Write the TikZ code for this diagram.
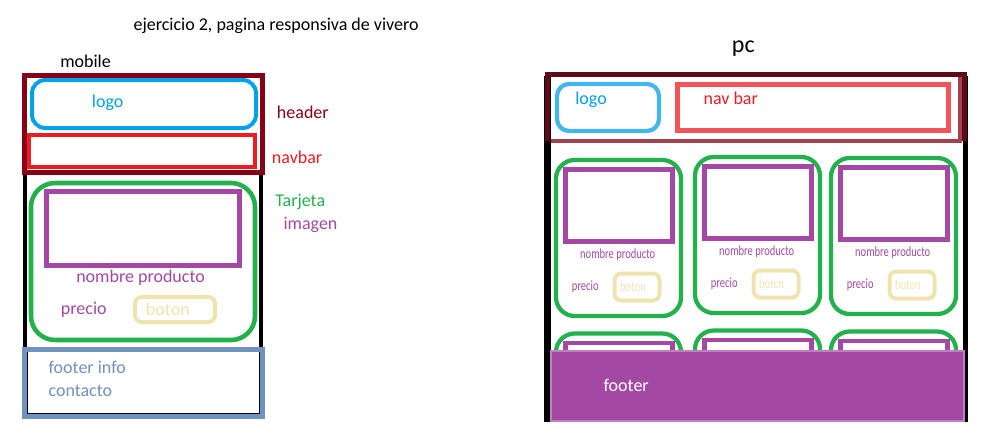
\documentclass[tikz,border=0pt]{standalone}
\usepackage{fontspec}
\setmainfont{Carlito}

\definecolor{hdrred}{HTML}{880015}
\definecolor{navred}{HTML}{ED1C24}
\definecolor{logoblue}{HTML}{00A2E8}
\definecolor{cardgreen}{HTML}{22B14C}
\definecolor{imgpurple}{HTML}{A349A4}
\definecolor{btnyellow}{HTML}{EFE4B0}
\definecolor{footblue}{HTML}{7092BE}
\definecolor{pclogo}{HTML}{45B6EC}
\definecolor{pcnav}{HTML}{F2545B}
\definecolor{pchdr}{HTML}{5E0A18}
\definecolor{pchdrlt}{HTML}{A3414F}

\tikzset{
  txt/.style={inner sep=0pt, anchor=mid west, yshift=-2.25pt, font=\fontsize{13.5pt}{16pt}\selectfont},
  small/.style={inner sep=0pt, anchor=mid west, yshift=-1pt, font=\fontsize{10.5pt}{12pt}\selectfont, xscale=0.75},
  card/.style={cardgreen, line width=3.2pt, rounded corners=14pt},
  img/.style={imgpurple, line width=3.2pt},
  btn/.style={btnyellow, line width=3pt, rounded corners=5pt}
}

\begin{document}
\begin{tikzpicture}[x=0.75pt, y=-0.75pt]
      \useasboundingbox (0,0) rectangle (992,432);
      \node[txt] (title) at (133.3,24) {ejercicio 2, pagina responsiva de vivero};

      % mobile
      \node[txt] (mobile) at (60,61.3) {mobile};
      \draw[black, line width=3pt] (25,172) -- (25,349) (261,172) -- (261,349);
      \draw[hdrred, line width=3.75pt] (24.5,75.5) rectangle (262.5,172.5);
      \draw[logoblue, line width=3pt, rounded corners=10pt] (32,80) rectangle (256,128);
      \draw[navred, line width=3pt] (29,135) rectangle (255,167);
      \draw[cardgreen, line width=3.4pt, rounded corners=18pt] (31,183) rectangle (255,340);
      \draw[imgpurple, line width=3.75pt] (46.5,191.5) rectangle (239.5,265.5);
      \draw[btnyellow, line width=3pt, rounded corners=5pt] (135,297) rectangle (215,322);
      \draw[black, line width=1.2pt] (27.5,352) -- (27.5,413.5) -- (259.5,413.5) -- (259.5,352);
      \draw[footblue, line width=3.75pt] (24.5,349.5) rectangle (262.5,416.5);
      \node[txt, text=logoblue] (mlogo) at (91.7,101.3) {logo};
      \node[txt, text=hdrred] (mheader) at (276.7,112) {header};
      \node[txt, text=navred] (mnavbar) at (271.7,157) {navbar};
      \node[txt, text=cardgreen] (mtarjeta) at (275,200.3) {Tarjeta};
      \node[txt, text=imgpurple] (mimagen) at (283.3,223.7) {imagen};
      \node[txt, text=imgpurple] (mnombre) at (76,276.3) {nombre producto};
      \node[txt, text=imgpurple] (mprecio) at (60.7,308.7) {precio};
      \node[txt, text=btnyellow] (mboton) at (145.7,309.3) {boton};
      \node[txt, text=footblue] (mfooter) at (48.3,367.3) {footer info};
      \node[txt, text=footblue] (mcontacto) at (48.3,390.3) {contacto};

      % pc
      \node[txt, font=\fontsize{18pt}{21pt}\selectfont] (pc) at (731.7,46.7) {pc};
      \draw[black, line width=5pt] (547.5,76) -- (547.5,422);
      \draw[black, line width=3.75pt] (965.5,76) -- (965.5,422);
      \draw[pchdr, line width=3.75pt] (547.5,141) -- (547.5,74.5) -- (964,74.5) -- (964,141);
      \draw[pchdrlt, line width=3pt] (551,141) -- (960,141) -- (960,77);
      \draw[pclogo, line width=3.2pt, rounded corners=9pt] (557,84) rectangle (659,131);
      \draw[pcnav, line width=3.4pt] (677.5,84.5) rectangle (948.5,130.5);
      \node[txt, text=logoblue] (pclogotxt) at (575,98.3) {logo};
      \node[txt, text=navred] (pcnavtxt) at (703.3,98.3) {nav bar};

      \foreach \i/\dx/\dy/\btn in {1/0/0/boton, 2/139/-3/botcn, 3/275/-2/boton} {
        \begin{scope}[shift={(\dx,\dy)}]
          \draw[card] (556,160) rectangle (681,316);
          \draw[img] (565.5,169.5) rectangle (672.5,241.5);
          \draw[btn] (614.5,273.5) rectangle (659.5,300.5);
          \node[small, text=imgpurple] (nom\i) at (580,254) {nombre producto};
          \node[small, text=imgpurple] (pre\i) at (571.7,286) {precio};
          \node[small, text=btnyellow] (bot\i) at (620,286.5) {\btn};
        \end{scope}
      }
      % second row, cut by the footer
      \begin{scope}
        \clip (550,300) rectangle (966,350);
        \foreach \dx/\dy in {0/173.5, 139/170.5, 275/171.5} {
          \begin{scope}[shift={(\dx,\dy)}]
            \draw[card] (556,160) rectangle (681,316);
            \draw[img] (565.5,169.5) rectangle (672.5,241.5);
          \end{scope}
        }
      \end{scope}
      \fill[imgpurple] (550,350) rectangle (965,422);
      \draw[imgpurple!70!white, line width=0.8pt] (551,351) rectangle (964,421);
      \node[txt, text=white] (pcfooter) at (603.3,385.3) {footer};
    \end{tikzpicture}
\end{document}
